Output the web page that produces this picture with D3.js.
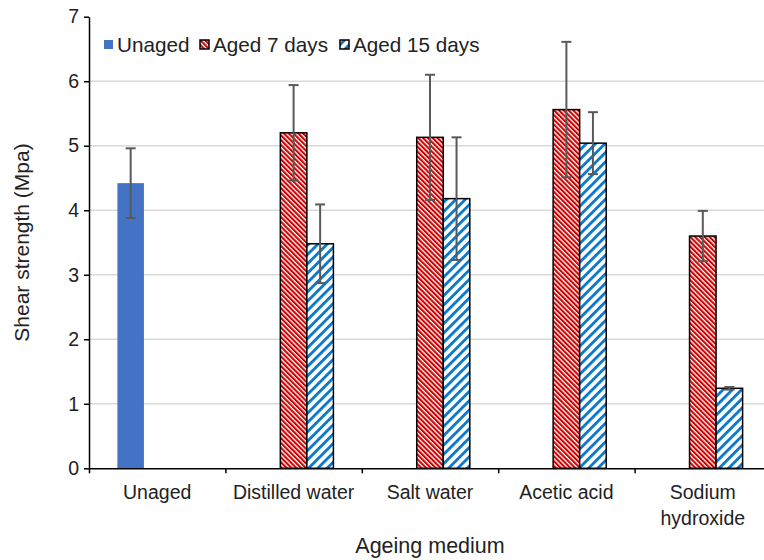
<!DOCTYPE html>
<html>
<head>
<meta charset="utf-8">
<script src="https://cdn.jsdelivr.net/npm/d3@7"></script>
<style>
  html, body { margin: 0; padding: 0; background: #fff; }
  svg { display: block; font-family: "Liberation Sans", Arial, sans-serif; }
</style>
</head>
<body>
<script>
const categories = ["Unaged", "Distilled water", "Salt water", "Acetic acid", "Sodium hydroxide"]
const tickLabels = [["Unaged"], ["Distilled water"], ["Salt water"], ["Acetic acid"], ["Sodium", "hydroxide"]]
const seriesNames = ["Unaged", "Aged 7 days", "Aged 15 days"]

const unaged = [4.42, null, null, null, null]
const aged7 = [null, 5.2, 5.13, 5.56, 3.6]
const aged15 = [null, 3.48, 4.18, 5.04, 1.24]

const unagedErr = [0.54, null, null, null, null]
const aged7Err = [null, 0.74, 0.97, 1.05, 0.39]
const aged15Err = [null, 0.61, 0.95, 0.48, 0.02]

const yTicks = [0, 1, 2, 3, 4, 5, 6, 7]

const width = 764
const height = 560

const svg = d3.select("body").append("svg").attr("width", width).attr("height", height)

// patterns
const defs = svg.append("defs")
const red = defs.append("pattern").attr("id", "redStripe").attr("patternUnits", "userSpaceOnUse")
  .attr("width", 3.4).attr("height", 3.4).attr("patternTransform", "rotate(-45)")
red.append("rect").attr("width", 3.4).attr("height", 3.4).attr("fill", "#fff")
red.append("rect").attr("width", 2.1).attr("height", 3.4).attr("fill", "#d00000")

const blue = defs.append("pattern").attr("id", "blueStripe").attr("patternUnits", "userSpaceOnUse")
  .attr("width", 6.6).attr("height", 6.6).attr("patternTransform", "rotate(45)")
blue.append("rect").attr("width", 6.6).attr("height", 6.6).attr("fill", "#fff")
blue.append("rect").attr("width", 2.8).attr("height", 6.6).attr("fill", "#0a78cc")

const fills = ["#4472c4", "url(#redStripe)", "url(#blueStripe)"]

const x0 = 89, x1 = 771
const x = d3.scaleBand(categories, [x0, x1]).paddingInner(0).paddingOuter(0)
const xSub = d3.scaleBand(seriesNames, [0, x.bandwidth()]).paddingInner(0).paddingOuter(1.07)
const y = d3.scaleLinear([0, 7], [468.3, 16.7])

// gridlines
svg.append("g").selectAll("line").data(yTicks.filter((d) => d > 0 && d < 7)).join("line")
  .attr("x1", x0).attr("x2", width).attr("y1", (d) => y(d)).attr("y2", (d) => y(d))
  .attr("stroke", "#d9d9d9").attr("stroke-width", 1.5)

// bars
const series = [unaged, aged7, aged15]
const errs = [unagedErr, aged7Err, aged15Err]
const rows = []
series.forEach((vals, si) => {
  vals.forEach((v, ci) => {
    if (v != null) rows.push({s: si, c: categories[ci], v: v, e: errs[si][ci]})
  })
})

svg.append("g").selectAll("rect").data(rows).join("rect")
  .attr("x", (d) => x(d.c) + xSub(seriesNames[d.s]))
  .attr("width", xSub.bandwidth())
  .attr("y", (d) => y(d.v))
  .attr("height", (d) => y(0) - y(d.v))
  .attr("fill", (d) => fills[d.s])
  .attr("stroke", (d) => (d.s === 0 ? "none" : "#000"))
  .attr("stroke-width", 1.5)

// error bars
const eb = svg.append("g").attr("stroke", "#595959").attr("stroke-width", 2)
rows.forEach((d) => {
  const cx = x(d.c) + xSub(seriesNames[d.s]) + xSub.bandwidth() / 2
  eb.append("line").attr("x1", cx).attr("x2", cx).attr("y1", y(d.v + d.e)).attr("y2", y(d.v - d.e))
  ;[d.v + d.e, d.v - d.e].forEach((t) => {
    eb.append("line").attr("x1", cx - 5).attr("x2", cx + 5).attr("y1", y(t)).attr("y2", y(t))
  })
})

// axes
const yAxis = svg.append("g").attr("transform", `translate(${x0},0)`)
  .call(d3.axisLeft(y).tickValues(yTicks).tickSize(5).tickSizeOuter(0).tickFormat(d3.format("d")))
yAxis.selectAll("path, line").attr("stroke", "#000").attr("stroke-width", 1.5)
yAxis.selectAll("text").attr("font-size", 19.5).attr("fill", "#222").attr("x", -10).attr("font-family", "Liberation Sans, Arial, sans-serif")

const xIdx = d3.scaleLinear([0, categories.length], [x0, x1])
const xAxis = svg.append("g").attr("transform", `translate(0,${y(0)})`)
  .call(d3.axisBottom(xIdx).tickValues(d3.range(categories.length + 1)).tickSize(5).tickSizeOuter(0).tickFormat(""))
xAxis.selectAll("path, line").attr("stroke", "#000").attr("stroke-width", 1.5)

const labels = svg.append("g").attr("font-size", 19.5).attr("fill", "#222").attr("text-anchor", "middle")
categories.forEach((c, i) => {
  const t = labels.append("text").attr("x", x(c) + x.bandwidth() / 2).attr("y", 499)
  tickLabels[i].forEach((ln, k) => {
    t.append("tspan").attr("x", x(c) + x.bandwidth() / 2).attr("dy", k === 0 ? 0 : 26).text(ln)
  })
})

// axis titles
svg.append("text").attr("x", (x0 + x1) / 2).attr("y", 553).attr("text-anchor", "middle")
  .attr("font-size", 21.5).attr("fill", "#222").text("Ageing medium")
svg.append("text").attr("transform", `translate(29,${(y(0) + y(7)) / 2}) rotate(-90)`).attr("text-anchor", "middle")
  .attr("font-size", 21).attr("fill", "#222").text("Shear strength (Mpa)")

// legend
const legendX = [104, 200, 340]
const legend = svg.append("g")
seriesNames.forEach((n, i) => {
  legend.append("rect").attr("x", legendX[i]).attr("y", 40).attr("width", 9).attr("height", 9)
    .attr("fill", fills[i]).attr("stroke", i === 0 ? "none" : "#000").attr("stroke-width", 1.5)
  legend.append("text").attr("x", legendX[i] + 13).attr("y", 52).attr("font-size", 20.7).attr("fill", "#222").text(n)
})
</script>
</body>
</html>
